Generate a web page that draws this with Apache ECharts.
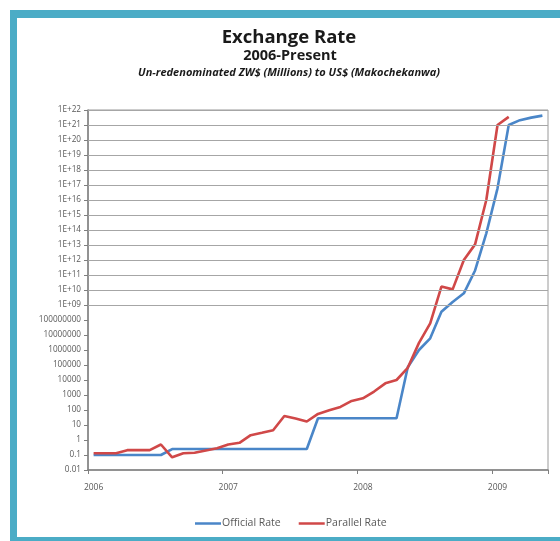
<!DOCTYPE html>
<html>
<head>
<meta charset="utf-8">
<script src="https://cdn.jsdelivr.net/npm/echarts@6/dist/echarts.min.js"></script>
<style>
  html, body { margin: 0; padding: 0; background: #ffffff; }
  #chart { width: 560px; height: 541px; }
</style>
</head>
<body>
<div id="chart"></div>
<script>
// Monthly observations, January 2006 through May 2009
var months = [
  '2006-01','2006-02','2006-03','2006-04','2006-05','2006-06','2006-07','2006-08','2006-09','2006-10','2006-11','2006-12',
  '2007-01','2007-02','2007-03','2007-04','2007-05','2007-06','2007-07','2007-08','2007-09','2007-10','2007-11','2007-12',
  '2008-01','2008-02','2008-03','2008-04','2008-05','2008-06','2008-07','2008-08','2008-09','2008-10','2008-11','2008-12',
  '2009-01','2009-02','2009-03','2009-04','2009-05'
];

// Official rate, un-redenominated ZW$ per US$
var officialRate = [
  0.1, 0.1, 0.1, 0.1, 0.1, 0.1, 0.1, 0.25, 0.25, 0.25, 0.25, 0.25,
  0.25, 0.25, 0.25, 0.25, 0.25, 0.25, 0.25, 0.25, 28, 28, 28, 28,
  28, 28, 28, 28, 7e4, 1e6, 6e6, 3.5e8, 1.6e9, 6e9, 2e11, 6e13,
  6e16, 1e21, 2.1e21, 3.1e21, 4.2e21
];

// Parallel (street) rate, un-redenominated ZW$ per US$
var parallelRate = [
  0.13, 0.13, 0.13, 0.21, 0.21, 0.21, 0.5, 0.07, 0.13, 0.14, 0.2, 0.28,
  0.5, 0.65, 2.1, 3, 4.5, 40, 27, 17, 55, 95, 160, 400,
  600, 1700, 6000, 1e4, 6.5e4, 3e6, 6e7, 1.7e10, 1.1e10, 1e12, 1.1e13, 1e16,
  1e21, 3.5e21
];

// Decades that carry a horizontal rule
var ruledDecades = [1e9, 1e10, 1e11, 1e12, 1e13, 1e14, 1e15, 1e16, 1e17, 1e18, 1e19, 1e20, 1e21, 1e22];

var titleText = 'Exchange Rate';
var subtitleText = '2006-Present';
var noteText = 'Un-redenominated ZW$ (Millions) to US$ (Makochekanwa)';

function decadeLabel(v) {
  var e = Math.round(Math.log10(v));
  if (e >= 9) return '1E+' + (e < 10 ? '0' + e : e);
  if (e < 0) return '0.' + '0'.repeat(-e - 1) + '1';
  return '1' + '0'.repeat(e);
}

var chart = echarts.init(document.getElementById('chart'), null, { renderer: 'canvas' });
var FONT = '"Open Sans", sans-serif';
var teal = '#4BACC6';
var blue = '#4A86C8';
var red = '#D04848';

chart.setOption({
  backgroundColor: '#ffffff',
  animation: false,
  textStyle: { fontFamily: FONT },
  graphic: [
    { type: 'rect', shape: { x: 10, y: 10, width: 550, height: 8 }, style: { fill: teal }, silent: true },
    { type: 'rect', shape: { x: 10, y: 10, width: 7, height: 531 }, style: { fill: teal }, silent: true },
    { type: 'rect', shape: { x: 10, y: 537, width: 550, height: 4 }, style: { fill: teal }, silent: true },
    { type: 'text', silent: true, style: { text: titleText, x: 289, y: 38, textAlign: 'center', textVerticalAlign: 'middle',
        font: 'bold 18.5px ' + FONT, fill: '#1a1a1a' } },
    { type: 'text', silent: true, style: { text: subtitleText, x: 290, y: 56, textAlign: 'center', textVerticalAlign: 'middle',
        font: 'bold 14.5px ' + FONT, fill: '#1a1a1a' } },
    { type: 'text', silent: true, style: { text: noteText, x: 289, y: 73, textAlign: 'center', textVerticalAlign: 'middle',
        font: 'italic bold 11px ' + FONT, fill: '#1a1a1a' } }
  ],
  legend: {
    data: ['Official Rate', 'Parallel Rate'],
    left: 190,
    top: 513,
    icon: 'rect',
    itemWidth: 26,
    itemHeight: 2.5,
    itemGap: 18,
    textStyle: { fontSize: 10.5, color: '#595959', fontFamily: FONT, padding: [0, 0, 0, -4] }
  },
  grid: {
    left: 88, right: 12, top: 110, bottom: 71,
    show: true, borderColor: '#9a9a9a', borderWidth: 1
  },
  xAxis: {
    type: 'category',
    data: months,
    boundaryGap: true,
    axisLine: { lineStyle: { color: '#7f7f7f', width: 1.5 } },
    axisTick: { show: true, length: 4, lineStyle: { color: '#7f7f7f' } },
    axisLabel: {
      interval: function (i, v) { return v.slice(5) === '01'; },
      formatter: function (v) { return v.slice(0, 4); },
      color: '#595959', fontSize: 8.5, margin: 13, fontFamily: FONT
    },
    splitLine: { show: false }
  },
  yAxis: {
    type: 'log',
    logBase: 10,
    min: 0.01,
    max: 1e22,
    interval: 1,
    axisLine: { show: true, lineStyle: { color: '#7f7f7f', width: 1.5 } },
    axisTick: { show: true, length: 4, lineStyle: { color: '#7f7f7f' } },
    axisLabel: { formatter: decadeLabel, color: '#595959', fontSize: 8.2, margin: 7, fontFamily: FONT },
    splitLine: { show: false },
    minorTick: { show: false }
  },
  series: [
    {
      name: 'rules',
      type: 'line',
      data: [],
      z: 1,
      silent: true,
      markLine: {
        silent: true,
        symbol: 'none',
        label: { show: false },
        lineStyle: { color: '#a6a6a6', width: 1.2, type: 'solid' },
        data: ruledDecades.map(function (d) { return { yAxis: d }; })
      }
    },
    {
      name: 'Official Rate',
      type: 'line',
      data: officialRate,
      symbol: 'none',
      z: 3,
      lineStyle: { color: blue, width: 2.6 },
      itemStyle: { color: blue }
    },
    {
      name: 'Parallel Rate',
      type: 'line',
      data: parallelRate,
      symbol: 'none',
      z: 4,
      lineStyle: { color: red, width: 2.6 },
      itemStyle: { color: red }
    }
  ]
});
</script>
</body>
</html>
